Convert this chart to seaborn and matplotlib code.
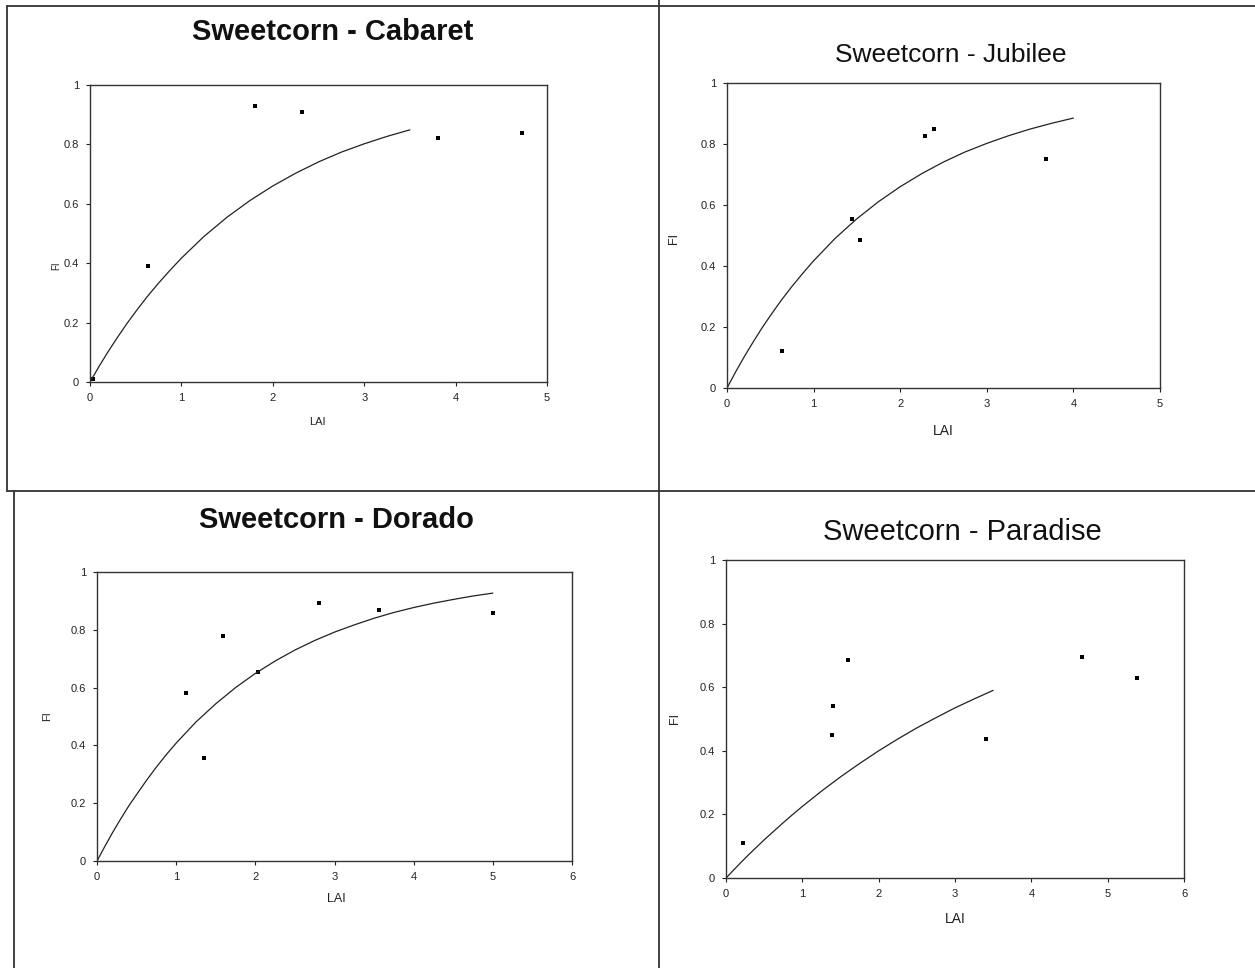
import pandas as pd
import numpy as np
import matplotlib
matplotlib.use("Agg")
import matplotlib.pyplot as plt
from matplotlib.lines import Line2D
import seaborn as sns

sns.set_style("ticks")
plt.rcParams['font.family'] = ['Liberation Sans', 'DejaVu Sans']

# Measured points (LAI, FI) per cultivar
cabaret_lai = [0.03, 0.63, 1.80, 2.32, 3.81, 4.73]
cabaret_fi = [0.01, 0.39, 0.93, 0.91, 0.82, 0.84]

jubilee_lai = [0.63, 1.44, 1.54, 2.29, 2.39, 3.68]
jubilee_fi = [0.12, 0.555, 0.485, 0.826, 0.849, 0.75]

dorado_lai = [1.12, 1.35, 1.59, 2.03, 2.80, 3.56, 5.00]
dorado_fi = [0.583, 0.355, 0.779, 0.655, 0.893, 0.868, 0.858]

paradise_lai = [0.22, 1.39, 1.40, 1.60, 3.41, 4.67, 5.39]
paradise_fi = [0.11, 0.45, 0.54, 0.686, 0.437, 0.695, 0.629]

# Fitted curves
curve_lai = [0, 0.1, 0.2, 0.3, 0.4, 0.5, 0.625, 0.75, 0.875, 1, 1.25, 1.5, 1.75, 2, 2.25, 2.5, 2.75, 3, 3.25, 3.5]
cabaret_curve = [0, 0.053, 0.103, 0.15, 0.195, 0.237, 0.287, 0.333, 0.376, 0.417,
                 0.491, 0.555, 0.611, 0.66, 0.703, 0.741, 0.774, 0.802, 0.827, 0.849]
paradise_curve = [0, 0.025, 0.05, 0.074, 0.097, 0.12, 0.147, 0.174, 0.2, 0.225,
                  0.273, 0.318, 0.36, 0.4, 0.437, 0.472, 0.504, 0.535, 0.563, 0.59]

jubilee_curve_lai = curve_lai + [3.75, 4.0]
jubilee_curve = cabaret_curve + [0.868, 0.885]

dorado_curve_lai = curve_lai + [3.75, 4, 4.25, 4.5, 4.75, 5]
dorado_curve = [0, 0.051, 0.1, 0.146, 0.19, 0.23, 0.279, 0.325, 0.368, 0.408,
                0.481, 0.544, 0.6, 0.649, 0.692, 0.73, 0.763, 0.792, 0.817, 0.84,
                0.86, 0.877, 0.892, 0.905, 0.917, 0.927]

y_ticks = [0, 0.2, 0.4, 0.6, 0.8, 1]
y_labels = ["0", "0.2", "0.4", "0.6", "0.8", "1"]

panels = [
    dict(title="Sweetcorn - Cabaret", bold=True, tfs=21, lai=cabaret_lai, fi=cabaret_fi,
         clai=curve_lai, cfi=cabaret_curve, xmax=5,
         rect=[90 / 1255, 1 - 382 / 968, 457 / 1255, 297 / 968],
         tpos=(333, 32), lab_fs=8, xlab=(0.497, -0.118), ylab=(-0.062, 0.39)),
    dict(title="Sweetcorn - Jubilee", bold=False, tfs=19, lai=jubilee_lai, fi=jubilee_fi,
         clai=jubilee_curve_lai, cfi=jubilee_curve, xmax=5,
         rect=[727 / 1255, 1 - 388 / 968, 433 / 1255, 305 / 968],
         tpos=(951, 55), lab_fs=10, xlab=(0.50, -0.118), ylab=(-0.108, 0.49)),
    dict(title="Sweetcorn - Dorado", bold=True, tfs=21, lai=dorado_lai, fi=dorado_fi,
         clai=dorado_curve_lai, cfi=dorado_curve, xmax=6,
         rect=[97 / 1255, 1 - 861 / 968, 475 / 1255, 289 / 968],
         tpos=(336, 520), lab_fs=9, xlab=(0.503, -0.11), ylab=(-0.095, 0.50)),
    dict(title="Sweetcorn - Paradise", bold=False, tfs=21, lai=paradise_lai, fi=paradise_fi,
         clai=curve_lai, cfi=paradise_curve, xmax=6,
         rect=[726 / 1255, 1 - 878 / 968, 458 / 1255, 318 / 968],
         tpos=(962, 532), lab_fs=10, xlab=(0.50, -0.108), ylab=(-0.098, 0.50)),
]

fig = plt.figure(figsize=(12.55, 9.68), dpi=100)

for p in panels:
    ax = fig.add_axes(p["rect"])
    pts = pd.DataFrame({"LAI": p["lai"], "FI": p["fi"]})
    fit = pd.DataFrame({"LAI": p["clai"], "FI": p["cfi"]})
    sns.lineplot(data=fit, x="LAI", y="FI", ax=ax, color="#222222", linewidth=0.9)
    sns.scatterplot(data=pts, x="LAI", y="FI", ax=ax, color="black", marker="s",
                    s=10, linewidth=0)
    ax.set_xlim(0, p["xmax"])
    ax.set_ylim(0, 1)
    ax.set_xticks(range(p["xmax"] + 1))
    ax.set_yticks(y_ticks)
    ax.set_yticklabels(y_labels)
    ax.tick_params(labelsize=8, length=3, width=0.8, pad=5, colors="#222222")
    for s in ax.spines.values():
        s.set_linewidth(1.0)
        s.set_color("#333333")
    ax.set_xlabel("LAI", fontsize=p["lab_fs"], color="#222222")
    ax.set_ylabel("FI", fontsize=p["lab_fs"] - 1, color="#222222")
    ax.xaxis.set_label_coords(*p["xlab"])
    ax.yaxis.set_label_coords(*p["ylab"])
    fig.text(p["tpos"][0] / 1255, 1 - p["tpos"][1] / 968, p["title"],
             ha="center", va="center", fontsize=p["tfs"],
             fontweight="bold" if p["bold"] else "normal", color="#111111")

# panel frames of the original page
def fline(x0, y0, x1, y1):
    fig.add_artist(Line2D([x0 / 1255, x1 / 1255], [1 - y0 / 968, 1 - y1 / 968],
                          color="#333333", linewidth=1.3, transform=fig.transFigure))

fline(7, 6, 1255, 6)
fline(7, 6, 7, 491)
fline(14, 491, 14, 968)
fline(659, 0, 659, 968)
fline(7, 491, 1255, 491)

fig.savefig("out.png", dpi=100)
